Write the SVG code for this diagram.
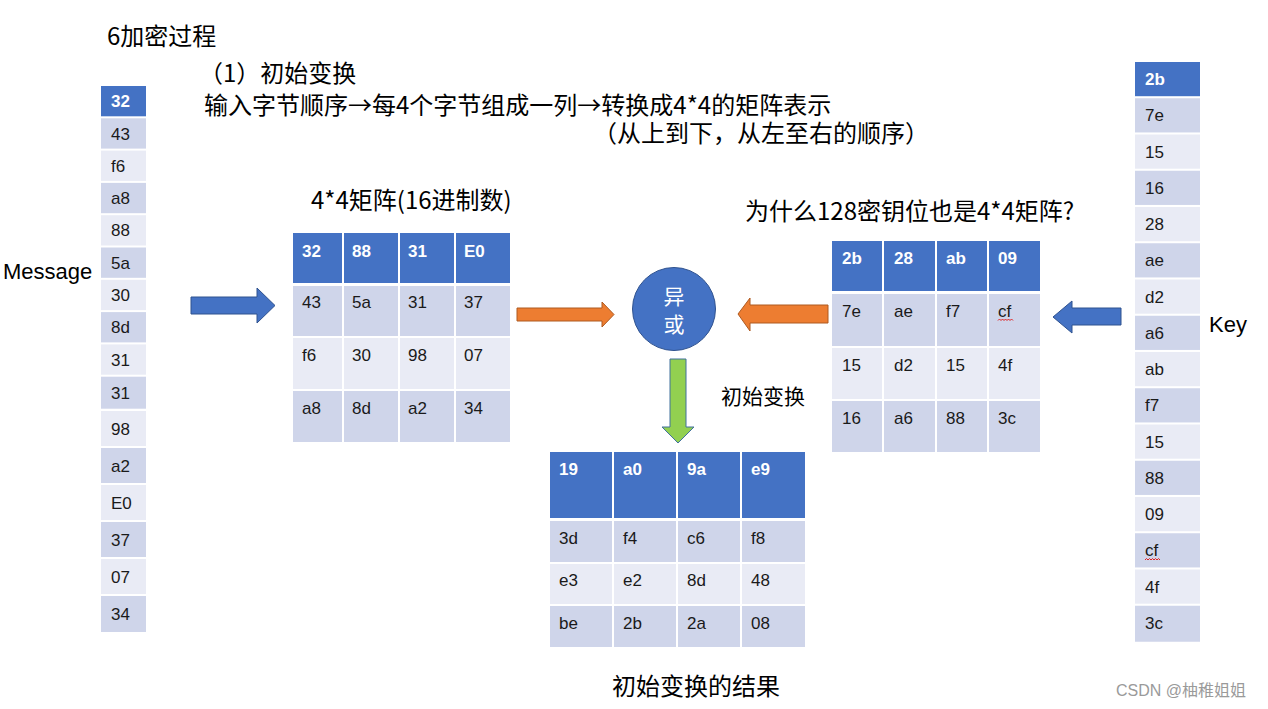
<svg xmlns="http://www.w3.org/2000/svg" width="1268" height="709" viewBox="0 0 1268 709">
<style>
.cjk{font-family:"Noto Sans CJK SC","Liberation Sans",sans-serif;fill:#000}
.hd{fill:#4472C4}
.dk{fill:#CFD5EA}
.lt{fill:#E9EBF5}
.ht{font-family:"Liberation Sans","Noto Sans CJK SC",sans-serif;font-size:17px;font-weight:bold;fill:#fff}
.ct{font-family:"Liberation Sans","Noto Sans CJK SC",sans-serif;font-size:17px;fill:#1a1a1a}
.blue{fill:#4472C4;stroke:#2F528F;stroke-width:1}
.orange{fill:#ED7D31;stroke:#AE5A21;stroke-width:1}
.green{fill:#92D050;stroke:#41719C;stroke-width:1}
.sq{fill:none;stroke:#E02020;stroke-width:1}
</style>
<rect width="1268" height="709" fill="#fff"/>

<g id="titles">
<text class="cjk" x="107" y="45" font-size="24">6加密过程</text>
<text class="cjk" x="199" y="82" font-size="24">（1）初始变换</text>
<text class="cjk" x="204" y="114" font-size="24">输入字节顺序→每4个字节组成一列→转换成4*4的矩阵表示</text>
<text class="cjk" x="593" y="142" font-size="24">（从上到下，从左至右的顺序）</text>
</g>

<g id="message-label"><text x="3" y="279" font-family="Liberation Sans,sans-serif" font-size="22">Message</text></g>
<g id="key-label"><text x="1209" y="332" font-family="Liberation Sans,sans-serif" font-size="22">Key</text></g>

<g id="message-column">
<rect class="hd" x="101" y="86" width="45" height="30.3"/><text class="ht" x="111" y="107">32</text>
<rect class="dk" x="101" y="118.3" width="45" height="30.3"/><text class="ct" x="111" y="139.5">43</text>
<rect class="lt" x="101" y="150.6" width="45" height="30.3"/><text class="ct" x="111" y="171.8">f6</text>
<rect class="dk" x="101" y="182.9" width="45" height="30.3"/><text class="ct" x="111" y="204.1">a8</text>
<rect class="lt" x="101" y="215.2" width="45" height="30.3"/><text class="ct" x="111" y="236.4">88</text>
<rect class="dk" x="101" y="247.5" width="45" height="30.3"/><text class="ct" x="111" y="268.7">5a</text>
<rect class="lt" x="101" y="279.8" width="45" height="30.3"/><text class="ct" x="111" y="301">30</text>
<rect class="dk" x="101" y="312.1" width="45" height="30.3"/><text class="ct" x="111" y="333.3">8d</text>
<rect class="lt" x="101" y="344.4" width="45" height="30.3"/><text class="ct" x="111" y="365.6">31</text>
<rect class="dk" x="101" y="376.7" width="45" height="32"/><text class="ct" x="111" y="398.5">31</text>
<rect class="lt" x="101" y="411" width="45" height="35"/><text class="ct" x="111" y="435">98</text>
<rect class="dk" x="101" y="448" width="45" height="35"/><text class="ct" x="111" y="472">a2</text>
<rect class="lt" x="101" y="485" width="45" height="35"/><text class="ct" x="111" y="509">E0</text>
<rect class="dk" x="101" y="522" width="45" height="35"/><text class="ct" x="111" y="546">37</text>
<rect class="lt" x="101" y="559" width="45" height="35"/><text class="ct" x="111" y="583">07</text>
<rect class="dk" x="101" y="596" width="45" height="36"/><text class="ct" x="111" y="620">34</text>
</g>

<g id="key-column">
<rect class="hd" x="1135" y="62" width="65" height="34.2"/><text class="ht" x="1145" y="85">2b</text>
<rect class="dk" x="1135" y="98.25" width="65" height="34.2"/><text class="ct" x="1145" y="121.3">7e</text>
<rect class="lt" x="1135" y="134.5" width="65" height="34.2"/><text class="ct" x="1145" y="157.6">15</text>
<rect class="dk" x="1135" y="170.75" width="65" height="34.2"/><text class="ct" x="1145" y="193.8">16</text>
<rect class="lt" x="1135" y="207" width="65" height="34.2"/><text class="ct" x="1145" y="230.1">28</text>
<rect class="dk" x="1135" y="243.25" width="65" height="34.2"/><text class="ct" x="1145" y="266.3">ae</text>
<rect class="lt" x="1135" y="279.5" width="65" height="34.2"/><text class="ct" x="1145" y="302.6">d2</text>
<rect class="dk" x="1135" y="315.75" width="65" height="34.2"/><text class="ct" x="1145" y="338.8">a6</text>
<rect class="lt" x="1135" y="352" width="65" height="34.2"/><text class="ct" x="1145" y="375.1">ab</text>
<rect class="dk" x="1135" y="388.25" width="65" height="34.2"/><text class="ct" x="1145" y="411.3">f7</text>
<rect class="lt" x="1135" y="424.5" width="65" height="34.2"/><text class="ct" x="1145" y="447.6">15</text>
<rect class="dk" x="1135" y="460.75" width="65" height="34.2"/><text class="ct" x="1145" y="483.8">88</text>
<rect class="lt" x="1135" y="497" width="65" height="34.2"/><text class="ct" x="1145" y="520.1">09</text>
<rect class="dk" x="1135" y="533.25" width="65" height="34.2"/><text class="ct" x="1145" y="556.3">cf</text>
<path class="sq" d="M1145 560 l1.5 -1.5 l1.5 1.5 l1.5 -1.5 l1.5 1.5 l1.5 -1.5 l1.5 1.5 l1.5 -1.5 l1.5 1.5 l1.5 -1.5 l1.5 1.5"/>
<rect class="lt" x="1135" y="569.5" width="65" height="34.2"/><text class="ct" x="1145" y="592.6">4f</text>
<rect class="dk" x="1135" y="605.75" width="65" height="36"/><text class="ct" x="1145" y="628.8">3c</text>
</g>

<g id="matrix-title"><text class="cjk" x="311" y="209" font-size="24">4*4矩阵(16进制数)</text></g>
<g id="key-question"><text class="cjk" x="745" y="220" font-size="24">为什么128密钥位也是4*4矩阵?</text></g>

<g id="message-matrix">
<rect class="hd" x="293" y="233" width="49" height="50"/><rect class="hd" x="344" y="233" width="54" height="50"/><rect class="hd" x="400" y="233" width="54" height="50"/><rect class="hd" x="456" y="233" width="54" height="50"/>
<text class="ht" x="302" y="257">32</text><text class="ht" x="352" y="257">88</text><text class="ht" x="408" y="257">31</text><text class="ht" x="464" y="257">E0</text>
<rect class="dk" x="293" y="286" width="49" height="50"/><rect class="dk" x="344" y="286" width="54" height="50"/><rect class="dk" x="400" y="286" width="54" height="50"/><rect class="dk" x="456" y="286" width="54" height="50"/>
<text class="ct" x="302" y="308">43</text><text class="ct" x="352" y="308">5a</text><text class="ct" x="408" y="308">31</text><text class="ct" x="464" y="308">37</text>
<rect class="lt" x="293" y="338" width="49" height="51"/><rect class="lt" x="344" y="338" width="54" height="51"/><rect class="lt" x="400" y="338" width="54" height="51"/><rect class="lt" x="456" y="338" width="54" height="51"/>
<text class="ct" x="302" y="361">f6</text><text class="ct" x="352" y="361">30</text><text class="ct" x="408" y="361">98</text><text class="ct" x="464" y="361">07</text>
<rect class="dk" x="293" y="391" width="49" height="51"/><rect class="dk" x="344" y="391" width="54" height="51"/><rect class="dk" x="400" y="391" width="54" height="51"/><rect class="dk" x="456" y="391" width="54" height="51"/>
<text class="ct" x="302" y="414">a8</text><text class="ct" x="352" y="414">8d</text><text class="ct" x="408" y="414">a2</text><text class="ct" x="464" y="414">34</text>
</g>

<g id="key-matrix">
<rect class="hd" x="832" y="241" width="50" height="50"/><rect class="hd" x="884" y="241" width="51" height="50"/><rect class="hd" x="937" y="241" width="50" height="50"/><rect class="hd" x="989" y="241" width="51" height="50"/>
<text class="ht" x="842" y="264">2b</text><text class="ht" x="894" y="264">28</text><text class="ht" x="946" y="264">ab</text><text class="ht" x="998" y="264">09</text>
<rect class="dk" x="832" y="294" width="50" height="52"/><rect class="dk" x="884" y="294" width="51" height="52"/><rect class="dk" x="937" y="294" width="50" height="52"/><rect class="dk" x="989" y="294" width="51" height="52"/>
<text class="ct" x="842" y="317">7e</text><text class="ct" x="894" y="317">ae</text><text class="ct" x="946" y="317">f7</text><text class="ct" x="998" y="317">cf</text>
<path class="sq" d="M998 320.5 l1.5 -1.5 l1.5 1.5 l1.5 -1.5 l1.5 1.5 l1.5 -1.5 l1.5 1.5 l1.5 -1.5 l1.5 1.5 l1.5 -1.5 l1.5 1.5"/>
<rect class="lt" x="832" y="348" width="50" height="51"/><rect class="lt" x="884" y="348" width="51" height="51"/><rect class="lt" x="937" y="348" width="50" height="51"/><rect class="lt" x="989" y="348" width="51" height="51"/>
<text class="ct" x="842" y="371">15</text><text class="ct" x="894" y="371">d2</text><text class="ct" x="946" y="371">15</text><text class="ct" x="998" y="371">4f</text>
<rect class="dk" x="832" y="401" width="50" height="51"/><rect class="dk" x="884" y="401" width="51" height="51"/><rect class="dk" x="937" y="401" width="50" height="51"/><rect class="dk" x="989" y="401" width="51" height="51"/>
<text class="ct" x="842" y="424">16</text><text class="ct" x="894" y="424">a6</text><text class="ct" x="946" y="424">88</text><text class="ct" x="998" y="424">3c</text>
</g>

<g id="xor">
<circle cx="674" cy="309" r="41.5" fill="#4472C4" stroke="#2F528F" stroke-width="1"/>
<text class="cjk" x="674" y="304" font-size="21" text-anchor="middle" style="fill:#fff">异</text>
<text class="cjk" x="674" y="332" font-size="21" text-anchor="middle" style="fill:#fff">或</text>
</g>

<g id="transform-label"><text class="cjk" x="721" y="404" font-size="21">初始变换</text></g>

<g id="result-matrix">
<rect class="hd" x="550" y="452" width="62" height="66"/><rect class="hd" x="614" y="452" width="62" height="66"/><rect class="hd" x="678" y="452" width="62" height="66"/><rect class="hd" x="742" y="452" width="63" height="66"/>
<text class="ht" x="559" y="475">19</text><text class="ht" x="623" y="475">a0</text><text class="ht" x="687" y="475">9a</text><text class="ht" x="751" y="475">e9</text>
<rect class="dk" x="550" y="521" width="62" height="41"/><rect class="dk" x="614" y="521" width="62" height="41"/><rect class="dk" x="678" y="521" width="62" height="41"/><rect class="dk" x="742" y="521" width="63" height="41"/>
<text class="ct" x="559" y="544">3d</text><text class="ct" x="623" y="544">f4</text><text class="ct" x="687" y="544">c6</text><text class="ct" x="751" y="544">f8</text>
<rect class="lt" x="550" y="564" width="62" height="40"/><rect class="lt" x="614" y="564" width="62" height="40"/><rect class="lt" x="678" y="564" width="62" height="40"/><rect class="lt" x="742" y="564" width="63" height="40"/>
<text class="ct" x="559" y="586">e3</text><text class="ct" x="623" y="586">e2</text><text class="ct" x="687" y="586">8d</text><text class="ct" x="751" y="586">48</text>
<rect class="dk" x="550" y="606" width="62" height="41"/><rect class="dk" x="614" y="606" width="62" height="41"/><rect class="dk" x="678" y="606" width="62" height="41"/><rect class="dk" x="742" y="606" width="63" height="41"/>
<text class="ct" x="559" y="629">be</text><text class="ct" x="623" y="629">2b</text><text class="ct" x="687" y="629">2a</text><text class="ct" x="751" y="629">08</text>
</g>

<g id="result-label"><text class="cjk" x="612" y="695" font-size="24">初始变换的结果</text></g>

<g id="connectors">
<polygon class="blue" points="191,297 257,297 257,288 275,305.5 257,323 257,314 191,314"/>
<polygon class="blue" points="1121,308 1072,308 1072,301 1053,317 1072,333 1072,325 1121,325"/>
<polygon class="orange" points="517,308 602,308 602,302 614,314.5 602,327 602,321 517,321"/>
<polygon class="orange" points="828,305 750,305 750,298 738,314 750,331 750,323 828,323"/>
<polygon class="green" points="670,359 686,359 686,427 694,427 678,443 662,427 670,427"/>
</g>

<g id="watermark"><text x="1116" y="696" font-family="Liberation Sans,Noto Sans CJK SC,sans-serif" font-size="16" fill="#9a9a9a">CSDN @柚稚姐姐</text></g>
</svg>
